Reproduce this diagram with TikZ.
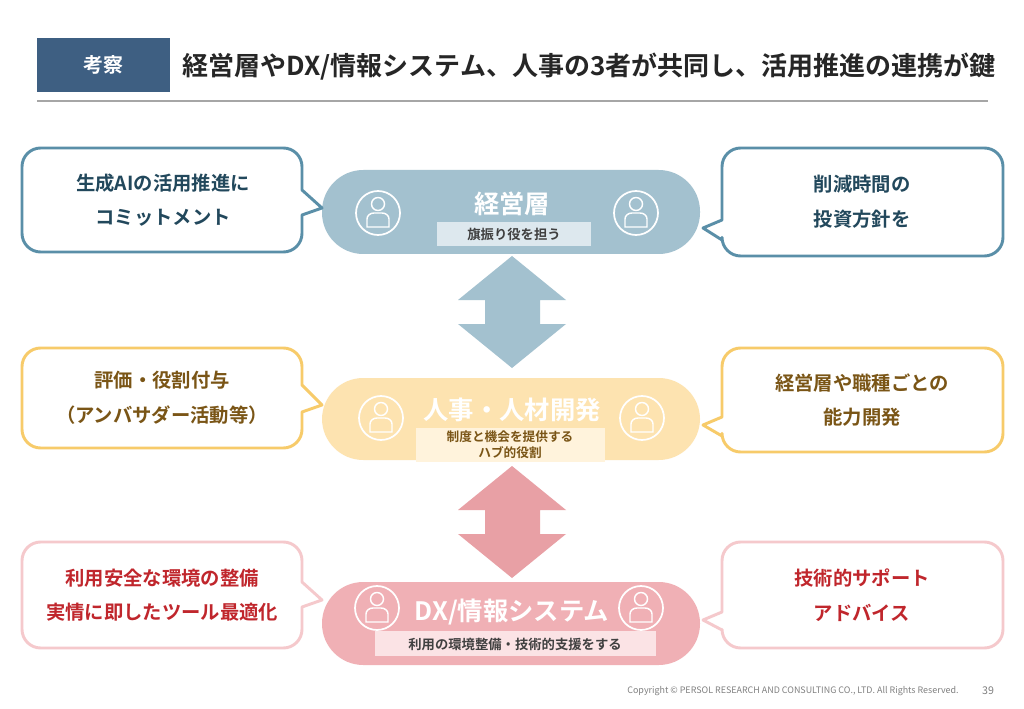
\documentclass[tikz,border=0pt]{standalone}
\usepackage{fontspec}
\setmainfont{Noto Sans CJK JP}
\newfontfamily\jpb{Noto Sans CJK JP Bold}
\newfontfamily\jp{Noto Sans CJK JP}
\begin{document}
\begin{tikzpicture}[x=0.75pt,y=-0.75pt,
 pill/.style={rounded corners=31pt,draw=none},
 cbox/.style={line width=2.2pt,fill=white,line join=round},
 ctext/.style={font=\jpb\fontsize{14.5}{26}\selectfont,align=center},
 ptitle/.style={text=white,font=\jpb\fontsize{19}{22}\selectfont},
 icon/.style={draw=white,line width=1.3pt,circle,minimum size=33pt,inner sep=0pt}]
\definecolor{navy}{HTML}{3E5F82}
\definecolor{bpill}{HTML}{A3C1CF}
\definecolor{bline}{HTML}{5A8FA8}
\definecolor{btext}{HTML}{22485C}
\definecolor{bsub}{HTML}{DDE8EE}
\definecolor{ypill}{HTML}{FDE3B0}
\definecolor{yline}{HTML}{F7CB6A}
\definecolor{ytext}{HTML}{7A5516}
\definecolor{ysub}{HTML}{FFF3DC}
\definecolor{ppill}{HTML}{F0B0B5}
\definecolor{pline}{HTML}{F5C9CC}
\definecolor{ptext}{HTML}{C0262C}
\definecolor{psub}{HTML}{FBE3E5}
\definecolor{parrow}{HTML}{E8A0A5}
\useasboundingbox (0,0) rectangle (1024,709);
\fill[white] (0,0) rectangle (1024,709);
% title
\fill[navy] (37,38) rectangle (170,92);
\node[text=white,font=\jpb\fontsize{15}{18}\selectfont] (tk) at (103.5,65) {考察};
\node[anchor=west,font=\jpb\fontsize{19.5}{22}\selectfont,text=black!85] (tt) at (178,67) {経営層やDX/情報システム、人事の3者が共同し、活用推進の連携が鍵};
\draw[gray!70,line width=0.8pt] (37,101) -- (988,101);
% arrows
\fill[bpill] (512,256) -- (566,300) -- (540,300) -- (540,324) -- (566,324) -- (512,368) -- (458,324) -- (485,324) -- (485,300) -- (458,300) -- cycle;
\fill[parrow] (512,466) -- (566,510) -- (540,510) -- (540,534) -- (566,534) -- (512,578) -- (458,534) -- (485,534) -- (485,510) -- (458,510) -- cycle;
% pills
\fill[bpill,pill] (322,170) rectangle (700,254);
\fill[ypill,pill] (322,378) rectangle (700,460);
\fill[ppill,pill] (322,582) rectangle (700,665);
\node[ptitle] (p1) at (512,204) {経営層};
\fill[bsub] (437,222) rectangle (591,246);
\node[text=black!75,font=\jpb\fontsize{10}{12}\selectfont] (s1) at (514,234) {旗振り役を担う};
\node[ptitle] (p2) at (512,410) {人事・人材開発};
\fill[ysub] (416,428) rectangle (605,462);
\node[text=ytext,font=\jpb\fontsize{9.5}{12}\selectfont,align=center] (s2) at (510,445) {制度と機会を提供する\\ハブ的役割};
\node[ptitle] (p3) at (512,612) {DX/情報システム};
\fill[psub] (375,631) rectangle (656,656);
\node[text=black!75,font=\jpb\fontsize{10}{12}\selectfont] (s3) at (515,644) {利用の環境整備・技術的支援をする};
% icons
\foreach \n/\x/\y in {i1/378/213,i2/636/213,i3/381/418,i4/642/418,i5/377/608,i6/641/608}{
 \node[icon] (\n) at (\x,\y) {};
 \draw[white,line width=1.1pt] (\x,\y-9) circle (6.5);
 \draw[white,line width=1.1pt] (\x-11,\y+14) -- (\x-11,\y+6) to[out=90,in=180] (\x-4,\y) -- (\x+4,\y) to[out=0,in=90] (\x+11,\y+6) -- (\x+11,\y+14) -- cycle;
}
% callouts
\draw[cbox,draw=bline] (22,148) [rounded corners=14pt] -- (302,148) [sharp corners] -- (302,190) -- (322,208) -- (302,215) [rounded corners=14pt] -- (302,252) -- (22,252) -- cycle;
\node[ctext,text=btext] (c1) at (163,200) {生成AIの活用推進に\\コミットメント};
\draw[cbox,draw=bline] (1003,148) [rounded corners=14pt] -- (1003,256) -- (722,256) [sharp corners] -- (722,240) -- (703,228) -- (722,220) [rounded corners=14pt] -- (722,148) -- cycle;
\node[ctext,text=btext] (c2) at (862,202) {削減時間の\\投資方針を};
\draw[cbox,draw=yline] (22,348) [rounded corners=14pt] -- (302,348) [sharp corners] -- (302,385) -- (322,405) -- (302,412) [rounded corners=14pt] -- (302,448) -- (22,448) -- cycle;
\node[ctext,text=ytext] (c3) at (162,398) {評価・役割付与\\（アンバサダー活動等）};
\draw[cbox,draw=yline] (1003,348) [rounded corners=14pt] -- (1003,452) -- (722,452) [sharp corners] -- (722,436) -- (703,425) -- (722,417) [rounded corners=14pt] -- (722,348) -- cycle;
\node[ctext,text=ytext] (c4) at (862,400) {経営層や職種ごとの\\能力開発};
\draw[cbox,draw=pline] (22,542) [rounded corners=14pt] -- (302,542) [sharp corners] -- (302,582) -- (322,600) -- (302,607) [rounded corners=14pt] -- (302,648) -- (22,648) -- cycle;
\node[ctext,text=ptext] (c5) at (162,595) {利用安全な環境の整備\\実情に即したツール最適化};
\draw[cbox,draw=pline] (1003,542) [rounded corners=14pt] -- (1003,648) -- (722,648) [sharp corners] -- (722,630) -- (703,620) -- (722,612) [rounded corners=14pt] -- (722,542) -- cycle;
\node[ctext,text=ptext] (c6) at (862,595) {技術的サポート\\アドバイス};
% footer
\node[text=gray,font=\jp\fontsize{6.7}{8}\selectfont] (ft) at (793,691) {Copyright © PERSOL RESEARCH AND CONSULTING CO., LTD. All Rights Reserved.};
\node[text=gray,font=\jp\fontsize{8}{9}\selectfont] (pg) at (988,691) {39};
\end{tikzpicture}
\end{document}
